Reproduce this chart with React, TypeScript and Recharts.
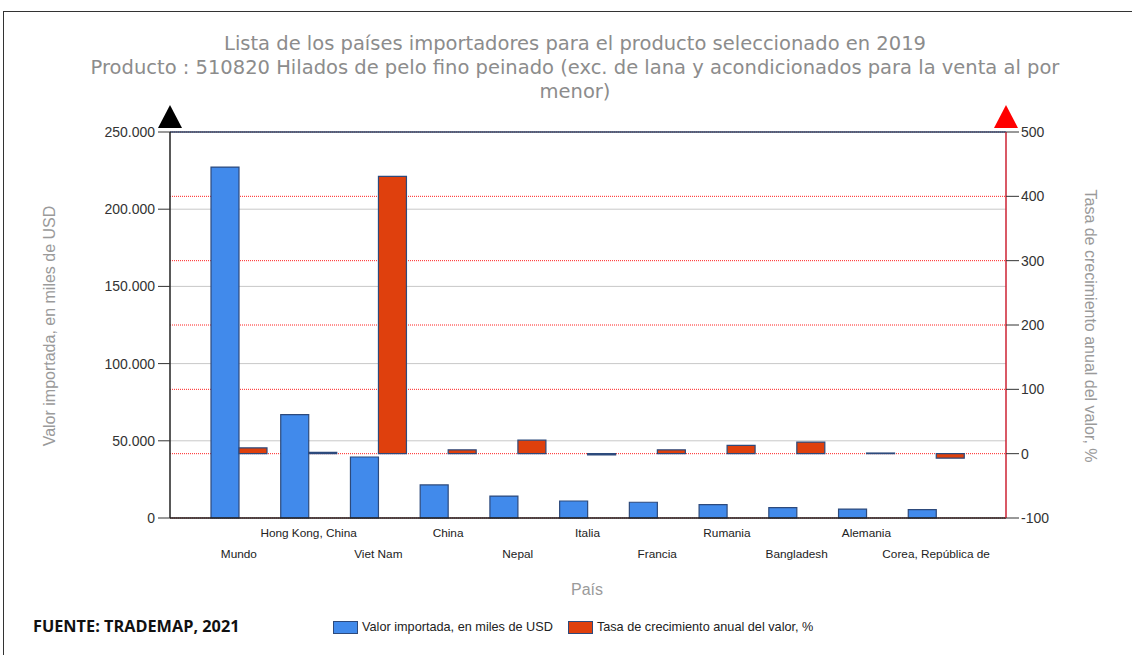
import React from "react";
import { ComposedChart, Bar, XAxis, YAxis, CartesianGrid, ReferenceLine } from "recharts";

const categories = [
  "Mundo",
  "Hong Kong, China",
  "Viet Nam",
  "China",
  "Nepal",
  "Italia",
  "Francia",
  "Rumania",
  "Bangladesh",
  "Alemania",
  "Corea, República de",
];
const valorImportado = [227300, 66900, 39500, 21400, 14200, 11000, 10200, 8600, 6700, 5800, 5400];
const tasaCrecimiento = [9, 2, 431, 6, 21, -2, 6, 13, 18, 1, -7];
const leftTicks = [0, 50000, 100000, 150000, 200000, 250000];
const rightTicks = [-100, 0, 100, 200, 300, 400, 500];

const titleLines = [
  "Lista de los países importadores para el producto seleccionado en 2019",
  "Producto : 510820 Hilados de pelo fino peinado (exc. de lana y acondicionados para la venta al por",
  "menor)",
];
const seriesNames = ["Valor importada, en miles de USD", "Tasa de crecimiento anual del valor, %"];

const data = categories.map((c, i) => ({
  pais: c,
  valor: valorImportado[i],
  tasa: tasaCrecimiento[i],
}));

const BLUE = "#418AEB";
const ORANGE = "#DF400D";
const STROKE = "#2D4A7C";
const FONT = "'Liberation Sans', Arial, sans-serif";

const fmtThousands = (v: number) => v.toString().replace(/\B(?=(\d{3})+(?!\d))/g, ".");

const XTick = (props: any) => {
  const { x, y, payload, index } = props;
  const lower = index % 2 === 0;
  return (
    <text
      x={x}
      y={y + (lower ? 40 : 19)}
      textAnchor="middle"
      fontSize={11.8}
      fill="#222"
      fontFamily={FONT}
    >
      {payload.value}
    </text>
  );
};

export default function App() {
  return (
    <div
      style={{
        position: "absolute",
        left: 0,
        top: 0,
        width: 1132,
        height: 655,
        background: "#fff",
        overflow: "hidden",
        fontFamily: FONT,
      }}
    >
      {/* frame */}
      <div
        style={{
          position: "absolute",
          left: 3,
          top: 11,
          width: 1140,
          height: 660,
          borderLeft: "1.5px solid #333",
          borderTop: "1.5px solid #333",
        }}
      />
      {/* title */}
      <div
        style={{
          position: "absolute",
          left: 25,
          top: 32,
          width: 1100,
          textAlign: "center",
          color: "#8c8c8c",
          fontFamily: "'DejaVu Sans', Verdana, sans-serif",
          fontSize: 19.5,
          lineHeight: "24px",
        }}
      >
        {titleLines.map((t, i) => (
          <div key={i} style={{ whiteSpace: "nowrap" }}>
            {t}
          </div>
        ))}
      </div>

      <div style={{ position: "absolute", left: 0, top: 0 }}>
        <ComposedChart
          width={1132}
          height={655}
          data={data}
          margin={{ top: 132, right: 0, bottom: 97, left: 0 }}
          barGap={0}
          barSize={28}
        >
          <CartesianGrid
            yAxisId="left"
            vertical={false}
            stroke="#c8c8c8"
            strokeWidth={1}
          />
          <CartesianGrid
            yAxisId="right"
            vertical={false}
            stroke="#ff2020"
            strokeDasharray="1 1"
            strokeWidth={1}
          />
          <XAxis
            dataKey="pais"
            interval={0}
            padding={{ left: 34, right: 35 }}
            tickLine={false}
            tickSize={0}
            tickMargin={0}
            height={40}
            axisLine={{ stroke: "#222", strokeWidth: 1.5 }}
            tick={<XTick />}
          />
          <YAxis
            yAxisId="left"
            orientation="left"
            width={170}
            domain={[0, 250000]}
            ticks={leftTicks}
            tickFormatter={fmtThousands}
            tickSize={12}
            tickMargin={3}
            axisLine={{ stroke: "#222", strokeWidth: 1.5 }}
            tickLine={{ stroke: "#333" }}
            tick={{ fill: "#333", fontSize: 14, fontFamily: FONT }}
            interval={0}
          />
          <YAxis
            yAxisId="right"
            orientation="right"
            width={126}
            domain={[-100, 500]}
            ticks={rightTicks}
            tickSize={13}
            tickMargin={2}
            axisLine={{ stroke: "#cc2233", strokeWidth: 1.5 }}
            tickLine={{ stroke: "#333" }}
            tick={{ fill: "#333", fontSize: 14, fontFamily: FONT }}
            interval={0}
          />
          <ReferenceLine yAxisId="left" y={250000} stroke="#2D4A6C" strokeWidth={1.5} />
          <Bar
            yAxisId="left"
            dataKey="valor"
            name={seriesNames[0]}
            fill={BLUE}
            stroke={STROKE}
            strokeWidth={1.2}
            isAnimationActive={false}
          />
          <Bar
            yAxisId="right"
            dataKey="tasa"
            name={seriesNames[1]}
            fill={ORANGE}
            stroke={STROKE}
            strokeWidth={1.2}
            isAnimationActive={false}
          />
        </ComposedChart>
      </div>

      {/* axis arrows */}
      <svg style={{ position: "absolute", left: 0, top: 0 }} width={1132} height={655}>
        <polygon points="170,105 158,128 182,128" fill="#000" />
        <polygon points="1006,105 994,128 1018,128" fill="#ff0000" />
      </svg>

      {/* axis titles */}
      <div
        style={{
          position: "absolute",
          left: 50,
          top: 326,
          transform: "translate(-50%, -50%) rotate(-90deg)",
          whiteSpace: "nowrap",
          color: "#9a9a9a",
          fontSize: 16,
        }}
      >
        Valor importada, en miles de USD
      </div>
      <div
        style={{
          position: "absolute",
          left: 1090,
          top: 326,
          transform: "translate(-50%, -50%) rotate(90deg)",
          whiteSpace: "nowrap",
          color: "#9a9a9a",
          fontSize: 16,
        }}
      >
        Tasa de crecimiento anual del valor, %
      </div>
      <div
        style={{
          position: "absolute",
          left: 587,
          top: 590,
          transform: "translate(-50%, -50%)",
          color: "#9a9a9a",
          fontSize: 16,
        }}
      >
        País
      </div>

      {/* source */}
      <div
        style={{
          position: "absolute",
          left: 33,
          top: 615,
          fontFamily: "'Open Sans', sans-serif",
          fontWeight: 700,
          fontSize: 16.3,
          color: "#111",
          whiteSpace: "nowrap",
        }}
      >
        FUENTE: TRADEMAP, 2021
      </div>

      {/* legend */}
      <div
        style={{
          position: "absolute",
          left: 333,
          top: 620,
          display: "flex",
          alignItems: "center",
          fontSize: 12.7,
          color: "#222",
          whiteSpace: "nowrap",
        }}
      >
        <span
          style={{
            display: "inline-block",
            width: 23,
            height: 11,
            background: BLUE,
            border: `1px solid ${STROKE}`,
            marginRight: 4,
          }}
        />
        <span style={{ marginRight: 15 }}>{seriesNames[0]}</span>
        <span
          style={{
            display: "inline-block",
            width: 23,
            height: 11,
            background: ORANGE,
            border: `1px solid ${STROKE}`,
            marginRight: 4,
          }}
        />
        <span>{seriesNames[1]}</span>
      </div>
    </div>
  );
}
